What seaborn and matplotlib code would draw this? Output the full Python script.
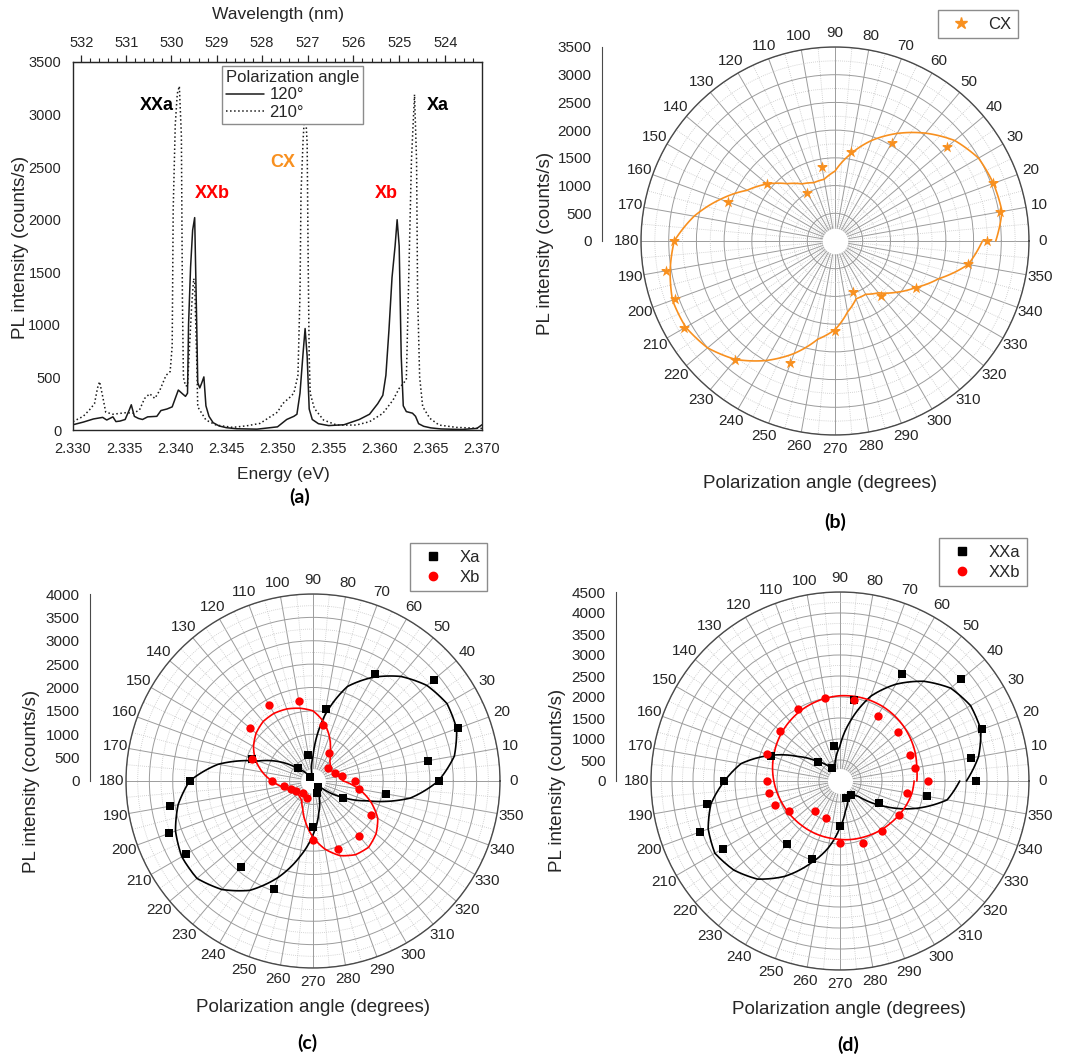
import numpy as np
import pandas as pd
import seaborn as sns
import matplotlib
matplotlib.use("Agg")
import matplotlib.pyplot as plt
from matplotlib.ticker import MultipleLocator, FixedLocator, FormatStrFormatter
from matplotlib.lines import Line2D

# ---------------- (a) PL spectra at two polarization angles ----------------
energy_120 = [2.3300, 2.3310, 2.3320, 2.3329, 2.3333, 2.3336, 2.3339, 2.3342, 2.3346, 2.3351,
              2.3355, 2.3357, 2.3360, 2.3364, 2.3368, 2.3373, 2.3382, 2.3386, 2.3392, 2.3397,
              2.3400, 2.3403, 2.3407, 2.3410, 2.3412, 2.3413, 2.3415, 2.3417, 2.3419, 2.3421,
              2.3422, 2.3424, 2.3426, 2.3428, 2.3430, 2.3433, 2.3437, 2.3443, 2.3450, 2.3460,
              2.3480, 2.3500, 2.3509, 2.3516, 2.3519, 2.3522, 2.3525, 2.3527, 2.3529, 2.3531,
              2.3534, 2.3540, 2.3550, 2.3565, 2.3580, 2.3590, 2.3598, 2.3603, 2.3606, 2.3609,
              2.3612, 2.3615, 2.3617, 2.3619, 2.3621, 2.3623, 2.3626, 2.3632, 2.3635, 2.3638,
              2.3643, 2.3650, 2.3660, 2.3680, 2.3695, 2.3700]
counts_120 = [50, 75, 105, 120, 95, 110, 125, 80, 85, 100,
              190, 240, 130, 110, 100, 125, 130, 185, 200, 220,
              300, 380, 345, 320, 350, 1000, 1550, 1900, 2020, 1000,
              450, 400, 450, 505, 230, 130, 70, 38, 22, 12,
              8, 30, 100, 130, 150, 350, 730, 965, 700, 200,
              100, 60, 42, 50, 100, 150, 250, 330, 520, 950,
              1450, 1750, 2000, 1750, 700, 230, 175, 160, 130, 60,
              35, 20, 10, 5, 15, 50]

energy_210 = [2.3300, 2.3310, 2.3316, 2.3321, 2.3324, 2.3326, 2.3329, 2.3332, 2.3339, 2.3352,
              2.3359, 2.3365, 2.3370, 2.3375, 2.3380, 2.3385, 2.3391, 2.3395, 2.3397, 2.3398,
              2.3400, 2.3402, 2.3404, 2.3406, 2.3407, 2.3408, 2.3410, 2.3412, 2.3414, 2.3416,
              2.3418, 2.3419, 2.3421, 2.3422, 2.3426, 2.3430, 2.3440, 2.3456, 2.3470, 2.3483,
              2.3492, 2.3500, 2.3505, 2.3512, 2.3516, 2.3520, 2.3522, 2.3523, 2.3525, 2.3527,
              2.3529, 2.3530, 2.3531, 2.3532, 2.3536, 2.3545, 2.3558, 2.3577, 2.3590, 2.3603,
              2.3613, 2.3619, 2.3623, 2.3626, 2.3628, 2.3631, 2.3634, 2.3636, 2.3637, 2.3639,
              2.3642, 2.3649, 2.3658, 2.3675, 2.3700]
counts_210 = [80, 130, 190, 250, 400, 460, 320, 170, 150, 165,
              160, 190, 300, 345, 300, 380, 520, 555, 800, 2100,
              2900, 3200, 3270, 2800, 1250, 500, 420, 420, 800, 1170,
              1440, 1400, 665, 220, 158, 95, 47, 25, 40, 63,
              120, 170, 250, 310, 350, 520, 1300, 2250, 2750, 3100,
              2720, 1600, 700, 350, 206, 95, 47, 47, 79, 158,
              285, 396, 443, 480, 1300, 2565, 3190, 2565, 1300, 506,
              222, 111, 47, 25, 15]

# ---------------- polar panels: measured intensities ----------------
meas_angles = [0, 10, 20, 40, 60, 80, 100, 120, 140, 160, 180,
               190, 200, 210, 230, 250, 270, 290, 310, 330, 350]
cx_meas = [2750, 3030, 3040, 2630, 2040, 1630, 1350, 1000, 1610, 2050, 2900,
           3090, 3070, 3140, 2810, 2350, 1630, 975, 1290, 1680, 2440]
xa_meas = [2690, 2500, 3290, 3370, 2640, 1560, 570, 110, 430, 1390, 2630,
           3110, 3270, 3140, 2400, 2450, 990, 280, 175, 730, 1580]
xb_meas = [900, 636, 495, 431, 698, 1215, 1728, 1870, 1766, 1386, 880,
           638, 507, 417, 343, 395, 1270, 1558, 1533, 1442, 1006]
xxa_meas = [3230, 3160, 3600, 3760, 2930, 1950, 840, 360, 690, 1760, 2755,
            3210, 3545, 3220, 1945, 1975, 1075, 435, 420, 1060, 2100]
xxb_meas = [2104, 1810, 1778, 1810, 1786, 1960, 2000, 1990, 1857, 1851, 1747,
            1712, 1640, 1406, 930, 947, 1485, 1583, 1562, 1610, 1628]

# fitted curves, read every 10 degrees from 0 to 360
fit_angles = list(range(0, 361, 10))
cx_fit = [2900, 3060, 3040, 2990, 2820, 2540, 2240, 1930, 1590, 1260,
          1130, 1120, 1190, 1350, 1600, 1830, 2200, 2580, 2900, 3020,
          3120, 3110, 3000, 2790, 2490, 2160, 1800, 1600, 1300, 1110,
          1110, 1220, 1440, 1680, 1990, 2440, 2660]
xa_fit = [2680, 3070, 3270, 3310, 3180, 2920, 2560, 2150, 1410, 530,
          150, 40, 20, 200, 400, 820, 1250, 2060, 2640, 2930,
          3130, 3240, 3240, 3030, 2700, 2200, 1650, 1150, 700, 400,
          250, 150, 200, 670, 1240, 2110, 2680]
xb_fit = [650, 560, 480, 450, 480, 560, 740, 1020, 1290, 1500,
          1580, 1640, 1670, 1660, 1590, 1470, 1310, 1100, 880, 680,
          530, 440, 420, 440, 480, 640, 900, 1200, 1480, 1700,
          1820, 1850, 1760, 1600, 1320, 1000, 650]
xxa_fit = [3010, 3350, 3570, 3590, 3440, 3100, 2660, 2150, 1460, 830,
           560, 350, 330, 500, 740, 1170, 1780, 2390, 2750, 3120,
           3340, 3440, 3300, 3050, 2620, 2100, 1620, 1100, 730, 530,
           420, 380, 570, 1200, 1910, 2590, 2850]
xxb_fit = [1830, 1855, 1910, 1955, 1995, 2025, 2045, 2050, 2045, 2030,
           2000, 1960, 1915, 1860, 1805, 1745, 1685, 1630, 1575, 1525,
           1480, 1445, 1415, 1395, 1385, 1380, 1380, 1390, 1415, 1440,
           1475, 1520, 1565, 1620, 1680, 1735, 1765]

ORANGE = '#F8901F'
RED = '#FF0000'
INK = '#262626'
GRID = '#9c9c9c'

sns.set_style('white')
plt.rcParams['font.family'] = ['Liberation Sans', 'DejaVu Sans']
plt.rcParams['text.color'] = INK
plt.rcParams['axes.edgecolor'] = INK
plt.rcParams['xtick.color'] = INK
plt.rcParams['ytick.color'] = INK

W, H = 1065, 1062
fig = plt.figure(figsize=(W / 100, H / 100), dpi=100)


def fig_text(px, py, s, **kw):
    fig.text(px / W, 1 - py / H, s, ha='center', va='center', **kw)


def panel_tag(px, py, s):
    fig_text(px, py, s, fontsize=14, fontweight='bold', family=['Lato', 'DejaVu Sans'], color='black')


# ---------------- panel (a) ----------------
ax_a = fig.add_axes([73 / W, 1 - 430 / H, 409 / W, 368 / H])
spec_120 = pd.DataFrame({'E': energy_120, 'I': counts_120})
spec_210 = pd.DataFrame({'E': energy_210, 'I': counts_210})
sns.lineplot(data=spec_120, x='E', y='I', ax=ax_a, color='#1a1a1a', lw=1.1,
             estimator=None, sort=False)
sns.lineplot(data=spec_210, x='E', y='I', ax=ax_a, color='#1a1a1a', lw=1.1,
             ls=':', estimator=None, sort=False)
ax_a.set_xlim(2.330, 2.370)
ax_a.set_ylim(0, 3500)
ax_a.set_xlabel('')
ax_a.set_ylabel('')
ax_a.xaxis.set_major_locator(MultipleLocator(0.005))
ax_a.xaxis.set_minor_locator(MultipleLocator(0.001))
ax_a.xaxis.set_major_formatter(FormatStrFormatter('%.3f'))
ax_a.yaxis.set_major_locator(MultipleLocator(500))
ax_a.yaxis.set_minor_locator(MultipleLocator(250))
ax_a.tick_params(which='both', direction='out', top=False, right=False, labelsize=10.5)
ax_a.tick_params(which='major', length=5, width=0.9)
ax_a.tick_params(which='minor', length=3, width=0.8)
for sp in ax_a.spines.values():
    sp.set_linewidth(1.0)

secax = ax_a.secondary_xaxis('top', functions=(lambda e: 1240.0 / np.asarray(e),
                                               lambda w: 1240.0 / np.asarray(w)))
secax.set_xticks(list(range(524, 533)))
secax.xaxis.set_minor_locator(FixedLocator(np.round(np.arange(523.2, 532.3, 0.2), 1)))
secax.tick_params(which='both', direction='out', labelsize=10.5)
secax.tick_params(which='major', length=5, width=0.9)
secax.tick_params(which='minor', length=3, width=0.8)

ax_a.text(2.33819, 3088, 'XXa', fontsize=13, fontweight='bold', color='black', ha='center', va='center')
ax_a.text(2.34366, 2252, 'XXb', fontsize=13, fontweight='bold', color=RED, ha='center', va='center')
ax_a.text(2.35051, 2546, 'CX', fontsize=13, fontweight='bold', color=ORANGE, ha='center', va='center')
ax_a.text(2.36068, 2252, 'Xb', fontsize=13, fontweight='bold', color=RED, ha='center', va='center')
ax_a.text(2.36567, 3088, 'Xa', fontsize=13, fontweight='bold', color='black', ha='center', va='center')

leg = ax_a.legend(handles=[Line2D([], [], color='#1a1a1a', lw=1.1),
                           Line2D([], [], color='#1a1a1a', lw=1.1, ls=':')],
                  labels=['120°', '210°'], title='Polarization angle',
                  loc='upper left', bbox_to_anchor=(0.364, 0.99), borderaxespad=0,
                  fontsize=12, title_fontsize=12, alignment='left', frameon=True,
                  fancybox=False, framealpha=1, edgecolor='#8c8c8c', borderpad=0.25,
                  labelspacing=0.15, handlelength=2.3, handletextpad=0.3)
leg.get_frame().set_linewidth(1.0)

fig_text(283, 474, 'Energy (eV)', fontsize=12.5)
fig_text(278, 15, 'Wavelength (nm)', fontsize=12.5)
fig_text(21, 247, 'PL intensity (counts/s)', fontsize=13.5, rotation=90)
panel_tag(300, 497, '(a)')


# ---------------- polar panels ----------------
def polar_panel(cx, cy, rad, rmax, ruler_x):
    ax = fig.add_axes([(cx - rad) / W, 1 - (cy + rad) / H, 2 * rad / W, 2 * rad / H],
                      projection='polar')
    ax.set_ylim(0, rmax)
    ax.set_yticks(np.arange(500, rmax + 1, 500))
    ax.yaxis.set_minor_locator(MultipleLocator(250))
    ax.set_yticklabels([])
    ax.set_thetagrids(np.arange(0, 360, 10), [str(a) for a in range(0, 360, 10)],
                      fontsize=11, color=INK)
    ax.xaxis.set_minor_locator(FixedLocator(np.radians(np.arange(5, 360, 10))))
    ax.grid(which='major', color=GRID, lw=0.7, ls='-')
    ax.grid(which='minor', color='#c6c6c6', lw=0.6, ls=(0, (1, 1.5)))
    ax.set_axisbelow(True)
    ax.spines['polar'].set_color('#4a4a4a')
    ax.spines['polar'].set_linewidth(1.0)
    ax.tick_params(axis='x', which='major', direction='out', length=3, pad=0, colors=INK)
    ax.tick_params(axis='x', which='minor', direction='out', length=2)
    ax.tick_params(axis='y', which='both', length=0)
    ring = np.linspace(0, 2 * np.pi, 121)
    ax.fill_between(ring, 0, 0.066 * rmax, color='white', lw=0, zorder=1)

    rul = fig.add_axes([ruler_x / W, 1 - cy / H, 0.0005, rad / H])
    rul.set_ylim(0, rmax)
    rul.set_xticks([])
    for s in ['top', 'right', 'bottom']:
        rul.spines[s].set_visible(False)
    rul.spines['left'].set_color('#4a4a4a')
    rul.yaxis.set_major_locator(MultipleLocator(500))
    rul.yaxis.set_minor_locator(MultipleLocator(100))
    rul.tick_params(axis='y', which='major', direction='out', length=4, labelsize=11)
    rul.tick_params(axis='y', which='minor', direction='out', length=2)
    rul.patch.set_visible(False)
    return ax


def fit_curve(ax, values, color):
    sns.lineplot(x=np.radians(fit_angles), y=values, ax=ax, color=color, lw=1.2,
                 sort=False, estimator=None)
    # let the polar transform draw each segment as a smooth arc in (theta, r)
    ax.lines[-1].get_path()._interpolation_steps = 16


def finish_polar(ax, rmax):
    ax.set_ylim(0, rmax)
    ax.set_xlabel('')
    ax.set_ylabel('')


def legend_box(ax, handles, labels, px, py):
    lg = ax.legend(handles=handles, labels=labels, loc='upper left',
                   bbox_to_anchor=(px / W, 1 - py / H), bbox_transform=fig.transFigure,
                   borderaxespad=0, fontsize=12, frameon=True, fancybox=False,
                   framealpha=1, edgecolor='#8c8c8c', borderpad=0.4, labelspacing=0.3,
                   handlelength=2.0, handletextpad=0.6)
    lg.get_frame().set_linewidth(1.0)


# (b) CX
ax_b = polar_panel(835, 241, 194, 3500, 602)
fit_curve(ax_b, cx_fit, ORANGE)
sns.scatterplot(x=np.radians(meas_angles), y=cx_meas, ax=ax_b, color=ORANGE,
                marker='*', s=75, linewidth=0, zorder=3)
finish_polar(ax_b, 3500)
legend_box(ax_b, [Line2D([], [], ls='none', marker='*', ms=9, color=ORANGE)], ['CX'], 938, 10)
fig_text(545, 243, 'PL intensity (counts/s)', fontsize=13.5, rotation=90)
fig_text(820, 483, 'Polarization angle (degrees)', fontsize=13.5)
panel_tag(835, 522, '(b)')

# (c) Xa / Xb
ax_c = polar_panel(313, 781, 187, 4000, 90)
fit_curve(ax_c, xa_fit, 'black')
fit_curve(ax_c, xb_fit, RED)
sns.scatterplot(x=np.radians(meas_angles), y=xa_meas, ax=ax_c, color='black',
                marker='s', s=28, linewidth=0, zorder=3)
sns.scatterplot(x=np.radians(meas_angles), y=xb_meas, ax=ax_c, color=RED,
                marker='o', s=36, linewidth=0, zorder=4)
finish_polar(ax_c, 4000)
legend_box(ax_c, [Line2D([], [], ls='none', marker='s', ms=5.5, color='black'),
                  Line2D([], [], ls='none', marker='o', ms=6, color=RED)],
           ['Xa', 'Xb'], 410, 543)
fig_text(32, 781, 'PL intensity (counts/s)', fontsize=13.5, rotation=90)
fig_text(313, 1008, 'Polarization angle (degrees)', fontsize=13.5)
panel_tag(307, 1043, '(c)')

# (d) XXa / XXb
ax_d = polar_panel(840, 781, 189, 4500, 616)
fit_curve(ax_d, xxa_fit, 'black')
fit_curve(ax_d, xxb_fit, RED)
sns.scatterplot(x=np.radians(meas_angles), y=xxa_meas, ax=ax_d, color='black',
                marker='s', s=28, linewidth=0, zorder=3)
sns.scatterplot(x=np.radians(meas_angles), y=xxb_meas, ax=ax_d, color=RED,
                marker='o', s=36, linewidth=0, zorder=4)
finish_polar(ax_d, 4500)
legend_box(ax_d, [Line2D([], [], ls='none', marker='s', ms=5.5, color='black'),
                  Line2D([], [], ls='none', marker='o', ms=6, color=RED)],
           ['XXa', 'XXb'], 939, 538)
fig_text(557, 780, 'PL intensity (counts/s)', fontsize=13.5, rotation=90)
fig_text(849, 1009, 'Polarization angle (degrees)', fontsize=13.5)
panel_tag(848, 1045, '(d)')

fig.savefig('out.png', dpi=100)
